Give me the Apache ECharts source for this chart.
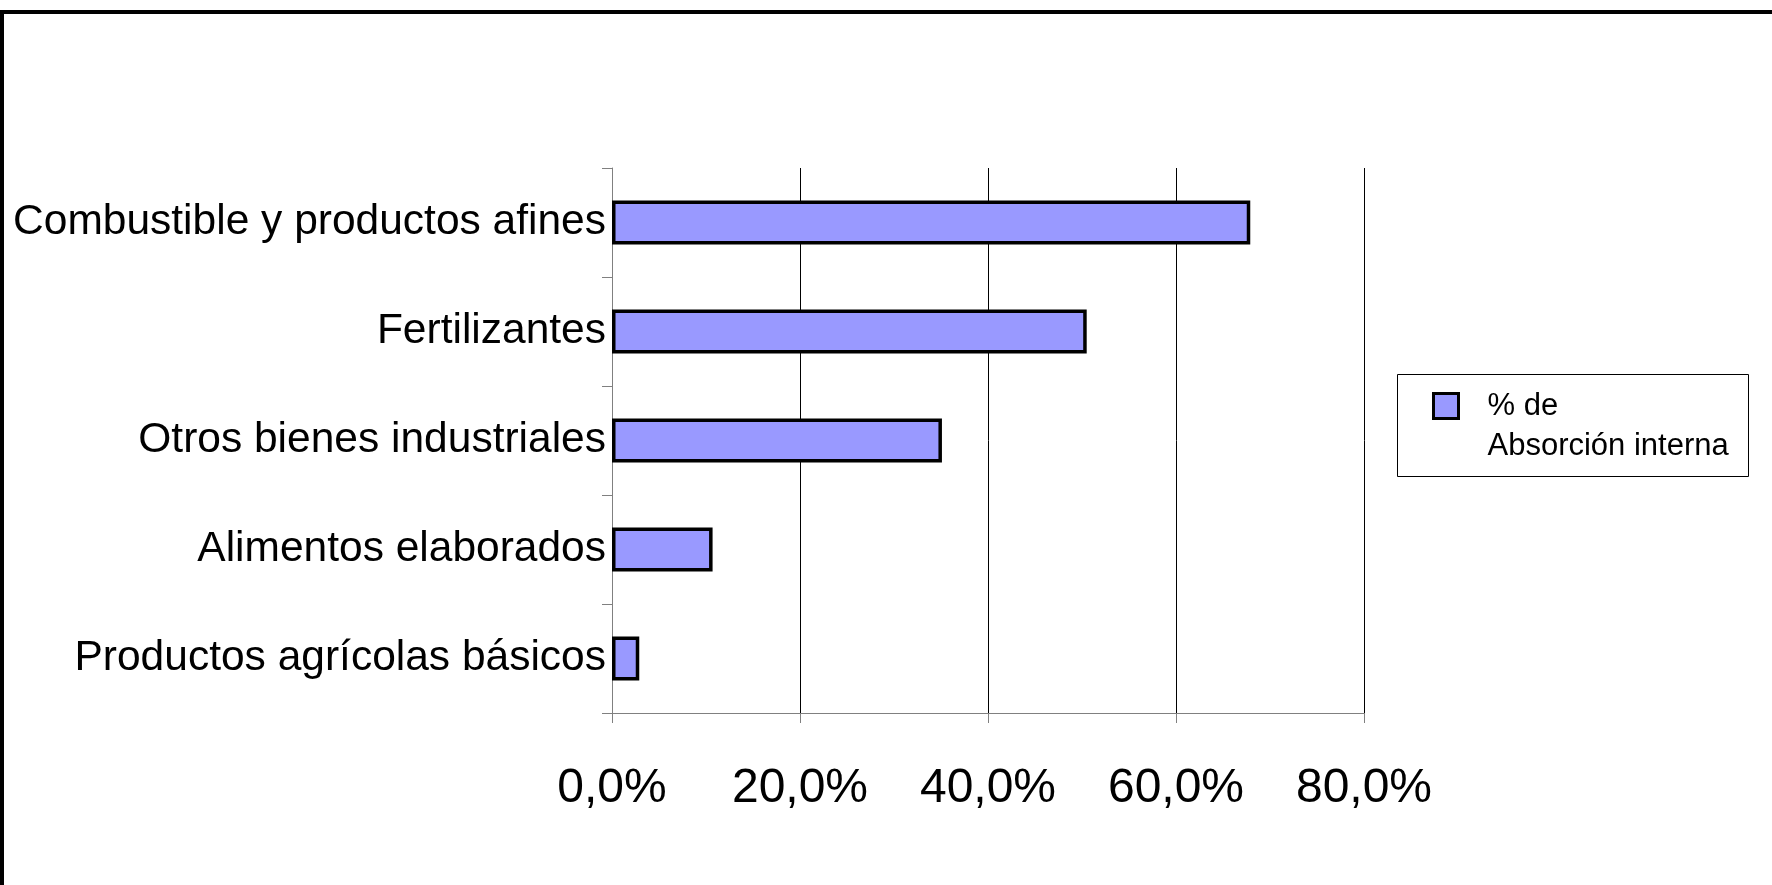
<!DOCTYPE html>
<html>
<head>
<meta charset="utf-8">
<style>
  html, body { margin: 0; padding: 0; background: #fff; }
  #chart { width: 1772px; height: 885px; }
</style>
<script src="https://cdn.jsdelivr.net/npm/echarts@6/dist/echarts.min.js"></script>
</head>
<body>
<div id="chart"></div>
<script>
// bottom to top, as ECharts stacks a category y axis
const categories = [
  "Productos agrícolas básicos",
  "Alimentos elaborados",
  "Otros bienes industriales",
  "Fertilizantes",
  "Combustible y productos afines"
];
const absorcion = [2.9, 10.7, 35.1, 50.5, 67.9];
const seriesName = "% de Absorción interna";
const xTicks = [0, 20, 40, 60, 80];

const FONT = "'Liberation Sans', Arial, sans-serif";
const chart = echarts.init(document.getElementById("chart"));

chart.setOption({
  backgroundColor: "#fff",
  animation: false,
  graphic: [
    // outer frame (top + left only)
    { type: "rect", shape: { x: 0, y: 10, width: 1772, height: 4 }, style: { fill: "#000" } },
    { type: "rect", shape: { x: 0, y: 10, width: 4, height: 875 }, style: { fill: "#000" } },
    // legend box
    { type: "rect", shape: { x: 1397.5, y: 374.5, width: 351, height: 102 },
      style: { fill: "none", stroke: "#000", lineWidth: 1 } }
  ],
  grid: { left: 612, right: 408, top: 168, bottom: 172 },
  legend: {
    left: 1432,
    top: 346,
    padding: 0,
    icon: "rect",
    itemWidth: 25,
    itemHeight: 25,
    itemStyle: { borderColor: "#000", borderWidth: 3 },
    // leading empty line keeps the swatch level with the first line
    formatter: () => "\n% de\nAbsorción interna",
    textStyle: {
      fontFamily: FONT,
      fontSize: 31,
      lineHeight: 40,
      color: "#000",
      padding: [0, 0, 0, 24]
    },
    data: [seriesName]
  },
  xAxis: {
    type: "value",
    min: xTicks[0],
    max: xTicks[xTicks.length - 1],
    interval: 20,
    axisLine: { show: true, lineStyle: { color: "#808080", width: 1 } },
    axisTick: { show: true, length: 10, lineStyle: { color: "#808080" } },
    splitLine: { show: true, lineStyle: { color: "#000", width: 1 } },
    axisLabel: {
      margin: 52,
      color: "#000",
      fontFamily: FONT,
      fontSize: 48,
      formatter: (v) => v.toFixed(1).replace(".", ",") + "%"
    }
  },
  yAxis: {
    type: "category",
    data: categories,
    axisLine: { show: true, lineStyle: { color: "#808080", width: 1 } },
    axisTick: { show: true, length: 10, lineStyle: { color: "#808080" } },
    axisLabel: {
      margin: 6,
      color: "#000",
      fontFamily: FONT,
      fontSize: 42.5
    }
  },
  series: [
    {
      name: seriesName,
      type: "bar",
      data: absorcion,
      barWidth: 44,
      itemStyle: { color: "#9999ff", borderColor: "#000", borderWidth: 3.5 }
    }
  ]
});
</script>
</body>
</html>
